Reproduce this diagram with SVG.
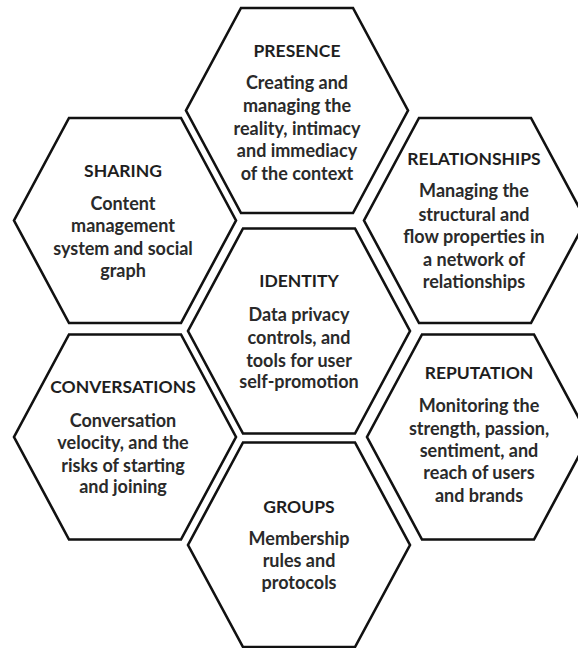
<svg xmlns="http://www.w3.org/2000/svg" width="578" height="648" viewBox="0 0 578 648">
  <style>
    .hex { fill: #ffffff; stroke: #111111; stroke-width: 2.6; stroke-linejoin: miter; }
    .title { font-family: Lato, "Liberation Sans", sans-serif; font-weight: 700; font-size: 17.5px; fill: #1e1e1e; text-anchor: middle; }
    .body { font-family: Lato, "Liberation Sans", sans-serif; font-weight: 700; font-size: 18px; fill: #2a2a2a; text-anchor: middle; }
  </style>
  <rect width="578" height="648" fill="#ffffff"/>

  <g id="presence">
    <polygon class="hex" points="241,8 353,8 408,110.5 353,213 241,213 186,110.5"/>
    <text class="title" x="297" y="57">PRESENCE</text>
    <text class="body" x="297" y="89">Creating and</text>
    <text class="body" x="297" y="112">managing the</text>
    <text class="body" x="297" y="135">reality, intimacy</text>
    <text class="body" x="297" y="157">and immediacy</text>
    <text class="body" x="297" y="180">of the context</text>
  </g>

  <g id="sharing">
    <polygon class="hex" points="69,118 181,118 236,220.5 181,323 69,323 14,220.5"/>
    <text class="title" x="123" y="177">SHARING</text>
    <text class="body" x="123" y="210">Content</text>
    <text class="body" x="123" y="232">management</text>
    <text class="body" x="123" y="255">system and social</text>
    <text class="body" x="123" y="277">graph</text>
  </g>

  <g id="relationships">
    <polygon class="hex" points="419,118 531,118 586,220.5 531,323 419,323 364,220.5"/>
    <text class="title" x="474" y="165">RELATIONSHIPS</text>
    <text class="body" x="474" y="197">Managing the</text>
    <text class="body" x="474" y="221">structural and</text>
    <text class="body" x="474" y="243">flow properties in</text>
    <text class="body" x="474" y="266">a network of</text>
    <text class="body" x="474" y="288">relationships</text>
  </g>

  <g id="identity">
    <polygon class="hex" points="243,228.5 355,228.5 410,331 355,433.5 243,433.5 188,331"/>
    <text class="title" x="299" y="287">IDENTITY</text>
    <text class="body" x="299" y="321">Data privacy</text>
    <text class="body" x="299" y="344">controls, and</text>
    <text class="body" x="299" y="367">tools for user</text>
    <text class="body" x="299" y="388">self-promotion</text>
  </g>

  <g id="conversations">
    <polygon class="hex" points="69,334.5 181,334.5 236,437 181,539.5 69,539.5 14,437"/>
    <text class="title" x="123" y="393">CONVERSATIONS</text>
    <text class="body" x="123" y="427">Conversation</text>
    <text class="body" x="123" y="449">velocity, and the</text>
    <text class="body" x="123" y="472">risks of starting</text>
    <text class="body" x="123" y="493">and joining</text>
  </g>

  <g id="reputation">
    <polygon class="hex" points="422,334.5 534,334.5 589,437 534,539.5 422,539.5 367,437"/>
    <text class="title" x="479" y="379">REPUTATION</text>
    <text class="body" x="479" y="412">Monitoring the</text>
    <text class="body" x="479" y="435">strength, passion,</text>
    <text class="body" x="479" y="457">sentiment, and</text>
    <text class="body" x="479" y="479">reach of users</text>
    <text class="body" x="479" y="502">and brands</text>
  </g>

  <g id="groups">
    <polygon class="hex" points="243,442.5 355,442.5 410,545 355,647 243,647 188,545"/>
    <text class="title" x="299" y="513">GROUPS</text>
    <text class="body" x="299" y="545">Membership</text>
    <text class="body" x="299" y="567">rules and</text>
    <text class="body" x="299" y="589">protocols</text>
  </g>

  <g id="connectors"/>
</svg>
